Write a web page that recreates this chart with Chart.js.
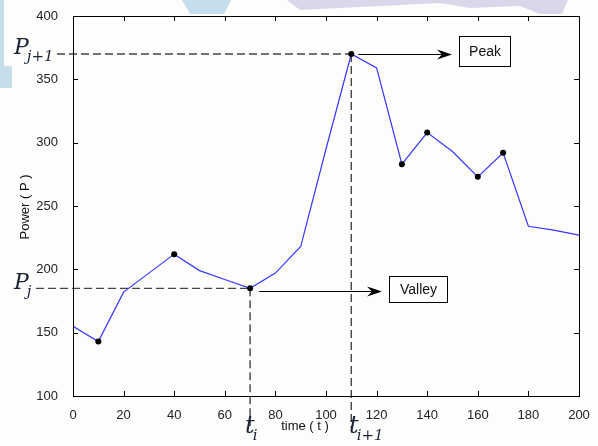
<!DOCTYPE html>
<html>
<head>
<meta charset="utf-8">
<script src="https://cdn.jsdelivr.net/npm/chart.js@4/dist/chart.umd.min.js"></script>
<style>
  html, body { margin: 0; padding: 0; background: #fdfdfb; }
  #wrap { width: 598px; height: 446px; position: relative; }
</style>
</head>
<body>
<div id="wrap"><canvas id="chart_power" width="598" height="446"></canvas></div>
<script>
// time axis samples and the power curve
const times = [0, 10, 20, 30, 40, 50, 60, 70, 80, 90, 100, 110, 120, 130, 140, 150, 160, 170, 180, 190, 200]
const power = [155, 143, 182, 197, 212, 199, 192, 185, 197, 218, 295, 370, 359, 283, 308, 293, 273, 292, 234, 231, 227]
// samples that carry a black dot
const markedTimes = [10, 40, 70, 110, 130, 140, 160, 170]

const xTicks = [0, 20, 40, 60, 80, 100, 120, 140, 160, 180, 200]
const yTicks = [100, 150, 200, 250, 300, 350, 400]

// the valley and peak that get annotated
const valley = { t: 70, p: 185 }
const peak = { t: 110, p: 370 }

const points = times.map((t, i) => ({ x: t, y: power[i] }))

const fontSans = "'Liberation Sans', Arial, sans-serif"
const fontMath = "'DejaVu Serif', 'Liberation Serif', serif"
const mathColor = '#1c2438'

function arrow(ctx, x0, x1, y) {
  ctx.beginPath()
  ctx.moveTo(x0, y)
  ctx.lineTo(x1 - 8, y)
  ctx.stroke()
  ctx.beginPath()
  ctx.moveTo(x1, y)
  ctx.lineTo(x1 - 15, y - 5)
  ctx.lineTo(x1 - 10, y)
  ctx.lineTo(x1 - 15, y + 5)
  ctx.closePath()
  ctx.fill()
}

function mathLabel(ctx, main, sub, x, y, size, subSize) {
  ctx.fillStyle = mathColor
  ctx.textBaseline = 'alphabetic'
  ctx.textAlign = 'left'
  ctx.font = 'italic ' + size + 'px ' + fontMath
  ctx.fillText(main, x, y)
  const w = ctx.measureText(main).width
  ctx.font = 'italic ' + subSize + 'px ' + fontMath
  ctx.fillText(sub, x + w - 2, y + size * 0.3)
}

const framePlugin = {
  id: 'frame',
  beforeDraw(chart) {
    // faint watermark shapes behind the figure
    const ctx = chart.ctx
    ctx.save()
    ctx.fillStyle = '#c6ddeb'
    ctx.fillRect(0, 0, 4, 66)
    ctx.fillRect(0, 66, 12, 22)
    ctx.beginPath()
    ctx.moveTo(182, 0); ctx.lineTo(231, 0); ctx.lineTo(224, 14); ctx.lineTo(190, 14)
    ctx.fill()
    ctx.fillStyle = '#d8d8ea'
    ctx.beginPath()
    ctx.moveTo(287, 0); ctx.lineTo(568, 0); ctx.lineTo(562, 14); ctx.lineTo(540, 14)
    ctx.lineTo(520, 6); ctx.lineTo(470, 8); ctx.lineTo(440, 3); ctx.lineTo(300, 10)
    ctx.fill()
    ctx.restore()
  },
  beforeDatasetsDraw(chart) {
    const { ctx, scales: { x, y } } = chart
    const vx = x.getPixelForValue(valley.t), vy = y.getPixelForValue(valley.p)
    const px = x.getPixelForValue(peak.t), py = y.getPixelForValue(peak.p)
    ctx.save()
    ctx.strokeStyle = '#444'
    ctx.lineWidth = 1.4
    ctx.setLineDash([8, 4])
    ctx.beginPath()
    ctx.moveTo(57, py)
    ctx.lineTo(px, py)
    ctx.moveTo(px, py)
    ctx.lineTo(px, 428)
    ctx.moveTo(36, vy)
    ctx.lineTo(vx, vy)
    ctx.moveTo(vx, vy)
    ctx.lineTo(vx, 426)
    ctx.stroke()
    ctx.restore()
  },
  afterDraw(chart) {
    const { ctx, chartArea: a, scales: { x, y } } = chart
    ctx.save()
    // box round the plot
    ctx.strokeStyle = '#000'
    ctx.lineWidth = 1
    ctx.strokeRect(Math.round(a.left) + 0.5, Math.round(a.top) + 0.5,
      Math.round(a.right - a.left), Math.round(a.bottom - a.top))
    // inward ticks on all four sides
    ctx.beginPath()
    x.ticks.forEach(tk => {
      const xx = Math.round(x.getPixelForValue(tk.value)) + 0.5
      ctx.moveTo(xx, a.bottom); ctx.lineTo(xx, a.bottom - 5)
      ctx.moveTo(xx, a.top); ctx.lineTo(xx, a.top + 5)
    })
    y.ticks.forEach(tk => {
      const yy = Math.round(y.getPixelForValue(tk.value)) + 0.5
      ctx.moveTo(a.left, yy); ctx.lineTo(a.left + 5, yy)
      ctx.moveTo(a.right, yy); ctx.lineTo(a.right - 5, yy)
    })
    ctx.stroke()

    // axis titles
    ctx.fillStyle = '#111'
    ctx.font = '13px ' + fontSans
    ctx.textAlign = 'center'
    ctx.textBaseline = 'middle'
    ctx.fillText('time ( t )', 305, 426)
    ctx.save()
    ctx.translate(25, 207)
    ctx.rotate(-Math.PI / 2)
    ctx.fillText('Power ( P )', 0, 0)
    ctx.restore()

    // arrows and text boxes
    const vx = x.getPixelForValue(valley.t), vy = y.getPixelForValue(valley.p)
    const px = x.getPixelForValue(peak.t), py = y.getPixelForValue(peak.p)
    ctx.fillStyle = '#000'
    ctx.strokeStyle = '#000'
    arrow(ctx, px + 7, 452, Math.round(py) + 0.5)
    arrow(ctx, vx + 9, 382, Math.round(vy) + 3.5)

    ctx.strokeRect(459.5, 36.5, 51, 30)
    ctx.strokeRect(389.5, 276.5, 58, 26)
    ctx.fillStyle = '#111'
    ctx.font = '14px ' + fontSans
    ctx.textAlign = 'center'
    ctx.textBaseline = 'middle'
    ctx.fillText('Peak', 485, 52)
    ctx.fillText('Valley', 418.5, 290)

    // math labels
    mathLabel(ctx, 'P', 'j+1', 14, 54, 22, 15)
    mathLabel(ctx, 'P', 'j', 14, 289, 22, 15)
    mathLabel(ctx, 't', 'i', 245, 433, 24, 15)
    mathLabel(ctx, 't', 'i+1', 349, 433, 24, 15)
    ctx.restore()
  }
}

new Chart(document.getElementById('chart_power'), {
  type: 'line',
  data: {
    datasets: [{
      data: points,
      borderColor: '#3636ff',
      borderWidth: 1.2,
      tension: 0,
      pointRadius: ctx => markedTimes.includes(times[ctx.dataIndex]) ? 3 : 0,
      pointBackgroundColor: '#000',
      pointBorderColor: '#000',
      pointBorderWidth: 0
    }]
  },
  options: {
    responsive: false,
    animation: false,
    events: [],
    layout: { padding: { top: 16, right: 19, left: 0, bottom: 0 } },
    plugins: { legend: { display: false }, tooltip: { enabled: false } },
    scales: {
      x: {
        type: 'linear',
        min: 0, max: 200,
        afterBuildTicks: s => { s.ticks = xTicks.map(v => ({ value: v })) },
        afterFit: s => { s.height = 50 },
        grid: { display: false },
        border: { display: false },
        ticks: { color: '#222', padding: 4, maxRotation: 0, font: { family: fontSans, size: 13 } }
      },
      y: {
        min: 100, max: 400,
        afterBuildTicks: s => { s.ticks = yTicks.map(v => ({ value: v })) },
        afterFit: s => { s.width = 73 },
        grid: { display: false },
        border: { display: false },
        ticks: { color: '#222', padding: 7, font: { family: fontSans, size: 13 } }
      }
    }
  },
  plugins: [framePlugin]
})
</script>
</body>
</html>
